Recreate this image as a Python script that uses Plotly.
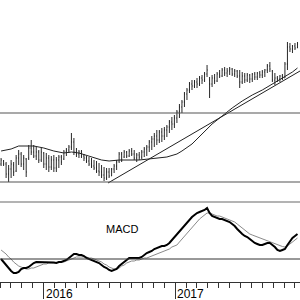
import plotly.graph_objects as go
import pandas as pd

# ---- data ----
week_start = "2015-09-04"
highs = [44,42,40,37,42,40,47,52,50,47, 44,57,62,57,55,52,54,50,49,47,
         46,47,45,47,47,52,54,57,69,64, 54,52,52,48,46,45,44,42,41,39,
         37,35,34,34,34,38,42,50,50,52, 51,53,54,52,49,50,52,55,57,62,
         66,69,72,72,74,75,77,82,85,87, 92,98,102,110,114,120,122,122,124,126,
         127,130,137,125,127,128,130,132,134,135, 134,135,134,133,132,132,130,129,129,128,
         129,130,130,131,132,133,138,140,132,129, 126,127,128,140,160,159,157,159,160]
lows = [36,36,24,20,24,26,30,37,35,32, 25,42,47,44,42,39,40,34,32,30,
        32,30,30,34,37,42,46,49,52,47, 45,44,44,41,39,36,34,32,29,26,
        24,21,22,24,26,29,32,39,40,44, 44,45,46,42,40,42,43,45,46,50,
        52,55,57,59,60,62,65,69,72,74, 79,84,89,95,102,109,112,114,114,116,
        118,120,125,104,115,118,120,124,125,126, 125,127,126,125,124,114,118,119,120,119,
        120,122,122,124,124,125,129,130,120,117, 120,120,122,124,132,150,149,152,154]
opens = [38,41,38,28,33,37,31,44,48,38, 43,44,54,50,46,50,42,49,38,44,
         35,42,34,42,45,43,50,52,55,60, 50,48,50,46,44,41,38,36,34,31,
         30,27,24,30,26,33,36,41,48,45, 50,46,51,48,44,47,45,50,53,55,
         60,63,66,62,70,66,72,75,80,78, 84,90,95,100,108,112,118,116,120,118,
         124,122,128,122,118,124,121,128,126,132, 129,131,133,128,131,126,120,126,122,127,
         123,128,125,129,127,130,132,136,131,122, 124,123,126,124,138,155,153,156,154]
closes = [42,38,28,33,38,30,44,48,38,44, 30,54,50,46,50,42,50,38,44,35,
          42,34,42,45,40,50,52,55,60,50, 48,50,46,44,41,38,36,34,31,30,
          27,24,30,26,33,36,40,48,42,50, 46,51,48,44,47,45,50,53,55,60,
          63,66,62,70,66,72,75,80,78,84, 90,95,100,108,112,118,116,120,118,124,
          122,128,132,118,124,121,128,126,132,129, 131,133,128,131,126,120,126,122,127,123,
          128,125,129,127,130,132,136,133,122,124, 123,126,124,138,155,153,156,154,158]

ma_idx = [0,4,7,13,17,21,25,28,31,35,40,43,47,55,59,66,70,72,76,80,84,88,92,96,100,104,108,112,116,118]
ma_vals = [51,53,56,56,54,51,49,50,49,46,42,41,42,42,43,45,48,51,58,68,78,86,94,101,107,112,118,124,130,134]

trend_dates = ["2016-06-28", "2017-12-15"]
trend_vals = [19, 131]

levels = [89, 20]

macd = [0,-3,-7,-10,-12,-14,-14,-13,-10,-9, -9,-8,-6,-4,-3,-3,-3.5,-3,-3,-3.5,
        -3,-3.5,-4,-3,-3,-2,-1,1,3,5, 5,4,4,3,1,0,-1,-2,-3,-4,
        -6,-8,-9,-11,-12,-11,-10,-7,-5,-3, -1,1,1,1,1,1,2,4,6,7,
        8,10,11,12,13,13,14,16,19,21, 24,27,30,34,37,39,42,44,46,47,
        48,49,51,46,43,42,41,40,40,39, 38,37,35,33,30,27,25,23,22,20,
        18,16,15,14,14,15,16,16,14,12, 9,8,9,10,14,18,21,23,25]
signal = [9,7,5,2,0,-3,-5,-7,-8,-9, -10,-10,-9,-9,-8,-7,-6,-5,-5,-4,
          -4,-4,-4,-3,-3,-3,-2,-1,0,1, 2,2,2,2,2,1,1,0,-1,-2,
          -3,-5,-6,-8,-9,-10,-10,-9,-7,-6, -4,-3,-2,-2,-1,-1,0,1,1,2,
          3,4,5,6,7,8,9,10,12,13, 14,17,20,23,26,29,32,35,37,40,
          42,44,46,46,45,44,43,43,42,41, 40,39,38,37,35,33,31,29,27,25,
          24,23,22,21,20,19,18,17,16,15, 14,13,12.5,12,13,15,17,19,21]

year_labels = [2016, 2017]
macd_label = "MACD"
x_start, x_end = "2015-09-01", "2017-12-15"

# ---- figure ----
dates = pd.date_range(week_start, periods=len(highs), freq="7D")
split = 80 / 282.0
font_family = "Liberation Sans, Arial, sans-serif"

fig = go.Figure()
fig.add_trace(go.Ohlc(
    x=dates, open=opens, high=highs, low=lows, close=closes,
    increasing=dict(line=dict(color="#111", width=0.9)),
    decreasing=dict(line=dict(color="#111", width=0.9)),
    tickwidth=0.22, xaxis="x", yaxis="y", showlegend=False, hoverinfo="skip"))
fig.add_trace(go.Scatter(x=dates[ma_idx], y=ma_vals, mode="lines",
                         line=dict(color="#222", width=1), yaxis="y", showlegend=False))
fig.add_trace(go.Scatter(x=trend_dates, y=trend_vals, mode="lines",
                         line=dict(color="#222", width=1), yaxis="y", showlegend=False))
fig.add_trace(go.Scatter(x=dates, y=signal, mode="lines",
                         line=dict(color="#8a8a8a", width=1), yaxis="y2", showlegend=False))
fig.add_trace(go.Scatter(x=dates, y=macd, mode="lines",
                         line=dict(color="black", width=2), yaxis="y2", showlegend=False))

for lv in levels:
    fig.add_shape(type="line", xref="paper", x0=0, x1=1, yref="y", y0=lv, y1=lv,
                  line=dict(color="#555", width=1.2))
fig.add_shape(type="line", xref="paper", x0=0, x1=1, yref="y2", y0=0, y1=0,
              line=dict(color="#333", width=1))
fig.add_shape(type="line", xref="paper", x0=0, x1=1, yref="paper", y0=split, y1=split,
              line=dict(color="#9a9a9a", width=1.5))

for yr in year_labels:
    fig.add_annotation(x=f"{yr}-01-01", xref="x", y=-11.5 / 282, yref="paper",
                       text=str(yr), showarrow=False, xanchor="left", yanchor="middle",
                       xshift=0, font=dict(family=font_family, size=12, color="black"))
fig.add_annotation(x="2016-08-06", xref="x", y=30, yref="y2", text=macd_label,
                   showarrow=False, xanchor="center", yanchor="middle",
                   font=dict(family=font_family, size=11, color="black"))

fig.update_layout(
    width=300, height=300,
    margin=dict(l=0, r=0, t=0, b=18),
    paper_bgcolor="white", plot_bgcolor="white",
    showlegend=False,
    xaxis=dict(range=[x_start, x_end], anchor="y2", showline=True, linecolor="#333",
               linewidth=1, ticks="outside", tickcolor="#333", ticklen=16, tickwidth=1,
               dtick="M12", tick0="2016-01-01", showticklabels=False, showgrid=False,
               zeroline=False,
               minor=dict(dtick="M1", tick0="2016-01-01", ticks="outside", ticklen=5,
                          tickcolor="#333", tickwidth=1, showgrid=False),
               rangeslider=dict(visible=False)),
    yaxis=dict(domain=[split, 1], range=[0, 202], visible=False),
    yaxis2=dict(domain=[0, split], range=[-23, 57], visible=False),
)

fig.write_html("out.html")
